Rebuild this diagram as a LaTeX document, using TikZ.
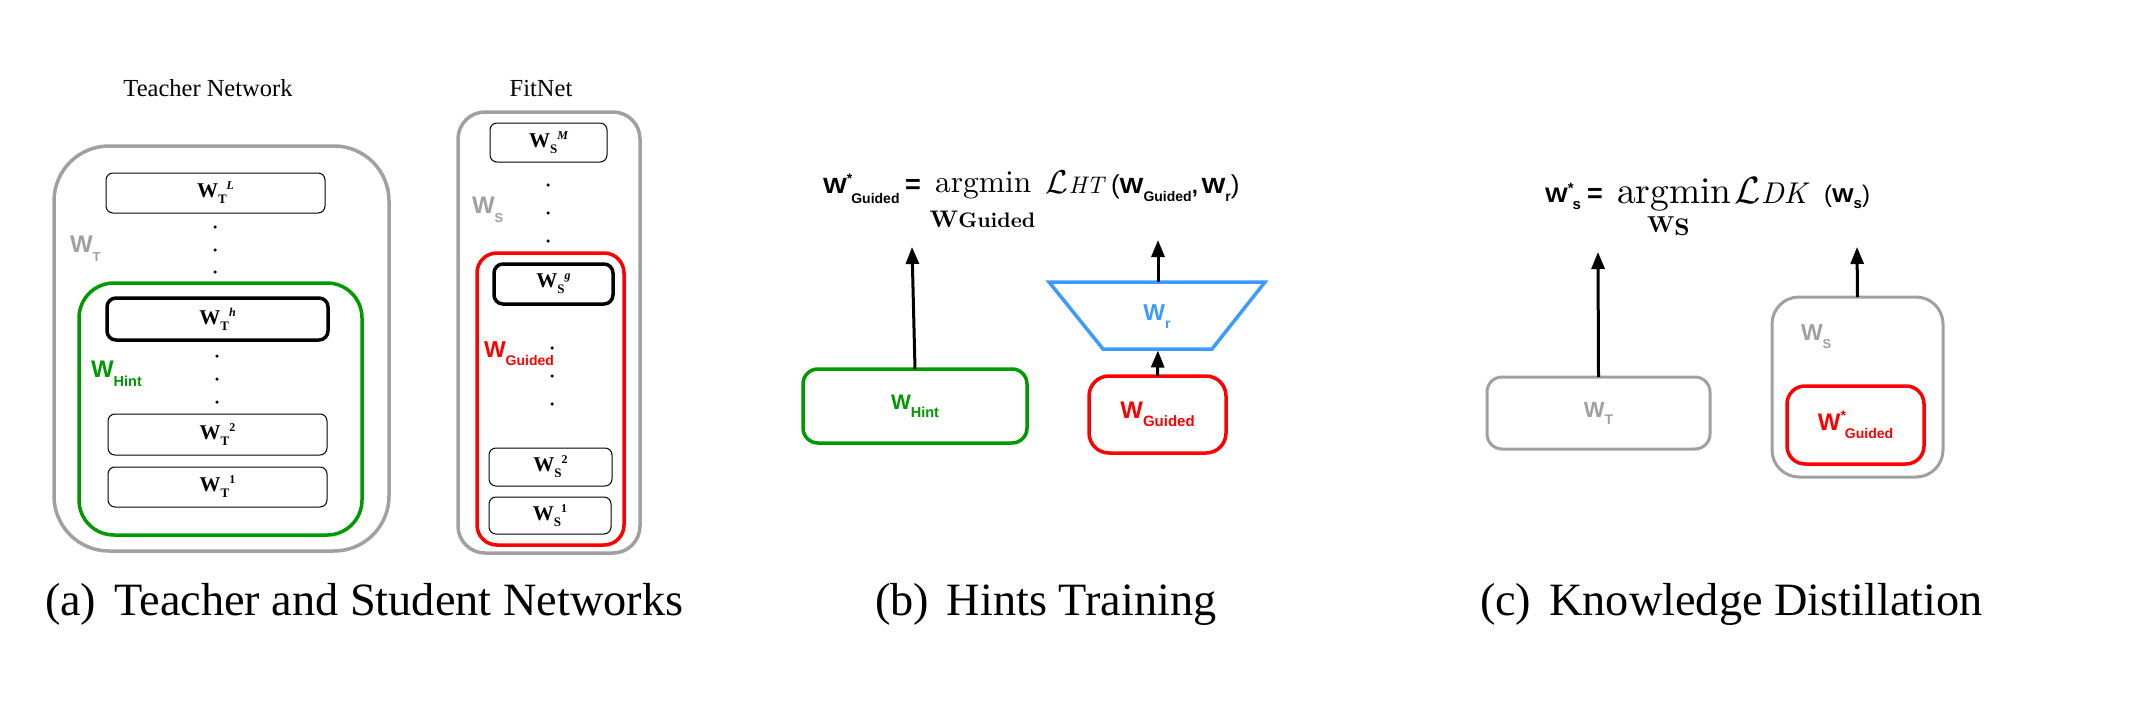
\RequirePackage{fix-cm}
\documentclass[tikz,border=0pt]{standalone}
\usepackage[no-math]{fontspec}
\newfontfamily\timesf{Liberation Serif}
\newfontfamily\arialf{Liberation Sans}
\newfontfamily\lmten{lmroman10-regular.otf}[BoldFont=lmroman10-bold.otf, ItalicFont=lmroman10-italic.otf]
\usetikzlibrary{arrows.meta}
\definecolor{tgray}{RGB}{160,160,160}
\definecolor{hgreen}{RGB}{0,153,0}
\definecolor{gred}{RGB}{255,0,0}
\definecolor{rblue}{RGB}{60,155,255}
\newcommand\fs[1]{\fontsize{#1}{#1}\selectfont}
\newcommand\lyr[2]{{\timesf\bfseries\fs{21}W\raisebox{-6pt}{\fs{13}#1}\raisebox{8pt}{\fs{12}#2}}}
\newcommand\sw[4]{{\arialf\bfseries\fs{#1}W\raisebox{-#3pt}{\fs{#2}#4}}}
\newcommand\swst[4]{{\arialf\bfseries\fs{#1}W\raisebox{0.42em}{\fs{#2}*}\kern-1pt\raisebox{-#3pt}{\fs{#2}#4}}}
\newcommand\fw[4]{{\arialf\bfseries\fs{#1}\scalebox{1.15}[1]{W}\raisebox{-#3pt}{\fs{#2}#4}}}
\newcommand\fwst[4]{{\arialf\bfseries\fs{#1}\scalebox{1.15}[1]{W}\raisebox{0.42em}{\fs{#2}*}\kern-1pt\raisebox{-#3pt}{\fs{#2}#4}}}
\begin{document}
\begin{tikzpicture}[x=1pt,y=-1pt,
  every node/.style={inner sep=0pt, outer sep=0pt},
  layerbox/.style={draw=black, line width=1pt, rounded corners=7pt},
  keybox/.style={draw=black, line width=3.5pt, rounded corners=9pt},
  grayframe/.style={draw=tgray, line width=3.5pt},
  greenframe/.style={draw=hgreen, line width=3.5pt},
  redframe/.style={draw=gred, line width=3.5pt},
  arr/.style={-{Triangle[length=17pt,width=13pt]}, line width=3pt},
  dot/.style={circle, fill=black, minimum size=3.5pt},
  captext/.style={anchor=base west, font=\timesf\fs{46.3}},
  titletext/.style={anchor=base, font=\timesf\fs{24.5}},
]
\useasboundingbox[fill=white] (0,0) rectangle (2142,701);

% ---------- (a) Teacher network ----------
\node[titletext] (ttitle) at (208,96) {Teacher Network};
\node[grayframe, rounded corners=55pt, minimum width=335pt, minimum height=405pt] (tnet) at (221.5,348.5) {};
\node[greenframe, rounded corners=35pt, minimum width=283pt, minimum height=252pt] (hintgrp) at (220.5,409) {};
\node[layerbox, minimum width=219pt, minimum height=40pt] (tL) at (215.5,193) {\lyr{T}{\itshape L}};
\node[keybox, minimum width=221pt, minimum height=42pt] (th) at (217.5,319) {\lyr{T}{\itshape h}};
\node[layerbox, minimum width=219pt, minimum height=41pt] (t2) at (217.5,434.5) {\lyr{T}{2}};
\node[layerbox, minimum width=219pt, minimum height=40pt] (t1) at (217.5,487) {\lyr{T}{1}};
\node[dot] (ta1) at (215,227) {};
\node[dot] (ta2) at (215,250) {};
\node[dot] (ta3) at (215,272) {};
\node[dot] (tb1) at (217,356) {};
\node[dot] (tb2) at (217,379) {};
\node[dot] (tb3) at (217,402) {};
\node[anchor=base west, text=tgray] (wtlab) at (70,252) {\sw{24}{13}{9}{T}};
\node[anchor=base west, text=hgreen] (whlab) at (91,377) {\sw{24}{14.5}{9}{Hint}};

% ---------- (a) FitNet ----------
\node[titletext] (stitle) at (541,96) {FitNet};
\node[grayframe, rounded corners=27pt, minimum width=182pt, minimum height=441pt] (snet) at (549,332.5) {};
\node[redframe, rounded corners=20pt, minimum width=147pt, minimum height=292pt] (guidgrp) at (550.5,399) {};
\node[layerbox, minimum width=117pt, minimum height=39pt] (sM) at (548.5,142.5) {\lyr{S}{\itshape M}};
\node[keybox, minimum width=119pt, minimum height=40pt] (sg) at (553.5,284) {\lyr{S}{\itshape g}};
\node[layerbox, minimum width=123pt, minimum height=38pt] (s2) at (550.5,467) {\lyr{S}{2}};
\node[layerbox, minimum width=122pt, minimum height=37pt] (s1) at (550,515.5) {\lyr{S}{1}};
\node[dot] (sa1) at (548,185) {};
\node[dot] (sa2) at (548,213) {};
\node[dot] (sa3) at (548,241) {};
\node[dot] (sb1) at (552,348) {};
\node[dot] (sb2) at (552,376) {};
\node[dot] (sb3) at (552,404) {};
\node[anchor=base west, text=tgray] (wslab) at (472,213) {\sw{24}{13}{9}{S}};
\node[anchor=base west, text=gred] (wglab) at (484,357) {\sw{23}{14}{8}{Guided}};

% ---------- (b) Hints training ----------
\node[anchor=base west] (fbw) at (823,193) {\fwst{22}{14}{10}{Guided}};
\node[anchor=base west] (fbeq) at (905,193) {\arialf\bfseries\fs{27}=};
\node[anchor=base west] (fbarg) at (935,192) {\lmten\fs{31.5}argmin};
\node[anchor=base] (fbsub) at (982.5,227) {\lmten\bfseries\fs{24}W\fs{21}Guided};
\node[anchor=base west] (fbL) at (1045,193) {\fs{33}$\mathcal{L}$\kern1pt{\lmten\itshape\fs{24}HT}};
\node[anchor=base west] (fbr) at (1111,193) {{\arialf\fs{26}(}\fw{22}{14}{8}{Guided}{\arialf\bfseries\fs{22},\,}\fw{22}{14}{8}{r}{\arialf\fs{26})}};

\node[greenframe, rounded corners=15pt, minimum width=224pt, minimum height=74pt, text=hgreen] (hintB) at (915,406) {\sw{21}{14.5}{8}{Hint}};
\coordinate (hintTop) at (912,247);
\draw[arr] (hintB.north) -- (hintTop);

\coordinate (trTL) at (1049,282);
\coordinate (trTR) at (1265,282);
\coordinate (trBR) at (1212,349);
\coordinate (trBL) at (1103,349);
\coordinate (trTop) at (1158,282);
\coordinate (trBot) at (1158,349);
\draw[draw=rblue, line width=3.5pt, line join=miter] (trTL) -- (trTR) -- (trBR) -- (trBL) -- cycle;
\node[text=rblue] (wr) at (1157,317) {\sw{23}{14}{8}{r}};
\coordinate (regTop) at (1158,240);
\draw[arr] (trTop) -- (regTop);

\node[redframe, rounded corners=20pt, minimum width=137pt, minimum height=77pt, text=gred] (guidB) at (1157.5,414.5) {\sw{24}{15}{8}{Guided}};
\draw[arr, shorten >=1.5pt] (guidB.north) -- (trBot);

% ---------- (c) Knowledge distillation ----------
\node[anchor=base west] (fcw) at (1545,202) {\fwst{21}{15}{7}{s}};
\node[anchor=base west] (fceq) at (1587,202) {\arialf\bfseries\fs{27}=};
\node[anchor=base west] (fcarg) at (1617,203) {\lmten\fs{37.5}argmin};
\node[anchor=base west] (fcsub) at (1647,232) {\lmten\bfseries\fs{23}W\raisebox{-3pt}{\fs{24}S}};
\node[anchor=base west] (fcL) at (1734,203) {\fs{38}$\mathcal{L}$\kern1pt{\lmten\itshape\fs{30}DK}};
\node[anchor=base west] (fcr) at (1824,202) {{\arialf\fs{24}(}\fw{20}{15}{6}{s}{\arialf\fs{24})}};

\node[grayframe, line width=3pt, rounded corners=15pt, minimum width=223pt, minimum height=72pt, text=tgray] (wtB) at (1598.5,413) {\sw{22}{14}{7}{T}};
\coordinate (wtTop) at (1598,252);
\draw[arr] (wtB.north) -- (wtTop);

\node[grayframe, line width=3pt, rounded corners=27pt, minimum width=171pt, minimum height=180pt] (wsB) at (1857.5,387) {};
\node[anchor=base west, text=tgray] (wsclab) at (1801,340) {\sw{23}{13}{8}{S}};
\node[redframe, rounded corners=18pt, minimum width=137pt, minimum height=78pt, text=gred] (gstar) at (1855.5,425) {\swst{24}{14}{8}{Guided}};
\coordinate (wsTop) at (1857,247);
\draw[arr] (wsB.north) -- (wsTop);

% ---------- captions ----------
\node[captext] (capa) at (45,615) {(a)\hspace{18pt}Teacher and Student Networks};
\node[captext] (capb) at (875,615) {(b)\hspace{18pt}Hints Training};
\node[captext] (capc) at (1480,615) {(c)\hspace{18pt}Knowledge Distillation};
\end{tikzpicture}
\end{document}
